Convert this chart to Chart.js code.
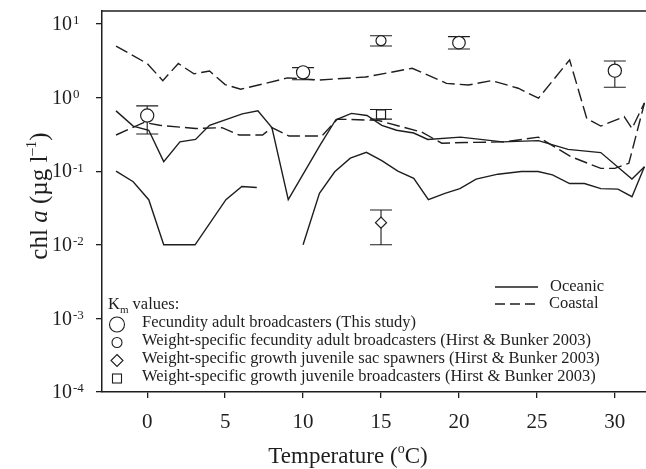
<!DOCTYPE html>
<html>
<head>
<meta charset="utf-8">
<script src="https://cdn.jsdelivr.net/npm/chart.js@4.4.1/dist/chart.umd.min.js"></script>
<style>
  body { margin: 0; background: #fff; }
  #wrap { width: 646px; height: 469px; }
</style>
</head>
<body>
<div id="wrap"><canvas id="chlChart" width="646" height="469"></canvas></div>
<script>
// axis ticks
const xTicks = [0, 5, 10, 15, 20, 25, 30];
const yExponents = [-4, -3, -2, -1, 0, 1];

// coastal lines (dashed)
const coastalHighT = [-2, 0, 1, 2, 3, 4, 5, 6, 7.6, 9, 11, 14, 17, 19.2, 20.6, 22.1, 23.8, 25.1, 27.1, 28.2, 29.1, 30.6, 31.1, 31.9];
const coastalHighV = [5.0, 2.9, 1.7, 2.9, 2.1, 2.3, 1.5, 1.3, 1.56, 1.85, 1.73, 1.9, 2.5, 1.56, 1.48, 1.7, 1.34, 0.98, 3.25, 0.52, 0.41, 0.55, 0.38, 0.85];
const coastalLowT = [-2, -0.2, 0.8, 3.1, 4.8, 5.9, 7.4, 8.0, 9.1, 11.2, 12.2, 14.8, 17.6, 18.9, 20.4, 22.9, 25.1, 27.2, 29.1, 30.0, 30.9, 31.9];
const coastalLowV = [0.31, 0.46, 0.42, 0.38, 0.39, 0.31, 0.31, 0.39, 0.30, 0.30, 0.51, 0.49, 0.34, 0.24, 0.245, 0.25, 0.29, 0.157, 0.109, 0.109, 0.128, 0.84];

// oceanic lines (solid)
const oceanicHighT = [-2, -0.9, 0.1, 1.06, 2.1, 3.1, 4.0, 6.1, 7.1, 8.0, 9.05, 11.1, 12.1, 13.1, 14.1, 15.05, 16.0, 17.1, 18.0, 20.1, 22.8, 25.1, 27.0, 29.1, 31.1, 31.9];
const oceanicHighV = [0.66, 0.41, 0.36, 0.135, 0.25, 0.27, 0.42, 0.60, 0.66, 0.39, 0.041, 0.227, 0.50, 0.61, 0.57, 0.42, 0.36, 0.33, 0.27, 0.29, 0.25, 0.26, 0.198, 0.179, 0.078, 0.115];
const oceanicLowT = [-2, -0.9, 0.1, 1.06, 3.07, 5.05, 6.07, 7.03, 8.5, 10.0, 11.05, 12.03, 13.03, 14.06, 15.05, 16.08, 17.1, 18.04, 19.1, 20.06, 21.1, 22.5, 24.0, 25.07, 26.0, 27.1, 28.05, 29.1, 30.2, 31.1, 31.9];
const oceanicLowV = [0.10, 0.072, 0.041, 0.01, 0.01, 0.041, 0.062, 0.06, null, 0.01, 0.05, 0.098, 0.15, 0.18, 0.139, 0.10, 0.08, 0.041, 0.05, 0.058, 0.078, 0.091, 0.099, 0.099, 0.089, 0.068, 0.068, 0.058, 0.057, 0.045, 0.115];

// Km values with error bars
const studyT = [0, 10, 30];
const studyV = [0.57, 2.2, 2.32];
const studyLo = [0.32, 1.75, 1.38];
const studyHi = [0.77, 2.55, 3.14];
const fecT = [15, 20];
const fecV = [5.93, 5.57];
const fecLo = [5.02, 4.57];
const fecHi = [6.93, 6.72];
const sacT = [15];
const sacV = [0.02];
const sacLo = [0.01];
const sacHi = [0.0297];
const juvT = [15];
const juvV = [0.59];
const juvLo = [0.51];
const juvHi = [0.69];

const legendKm = [
  'Fecundity adult broadcasters (This study)',
  'Weight-specific fecundity adult broadcasters (Hirst & Bunker 2003)',
  'Weight-specific growth juvenile sac spawners (Hirst & Bunker 2003)',
  'Weight-specific growth juvenile broadcasters (Hirst & Bunker 2003)'
];

const ink = '#1e1e1e';
const serif = '"Liberation Serif", "Times New Roman", serif';

function pts(t, v) { return t.map((x, i) => ({ x: x, y: v[i] })); }

function lineSet(t, v, dashed) {
  return {
    data: pts(t, v), borderColor: ink, borderWidth: 1.4, borderDash: dashed ? [13, 5] : [],
    pointRadius: 0, fill: false, tension: 0, spanGaps: false, order: 2
  };
}

function markerSet(t, v, lo, hi, style, radius) {
  return {
    data: pts(t, v), lo: lo, hi: hi, showLine: false, pointStyle: style, pointRadius: radius,
    pointBackgroundColor: '#fff', pointBorderColor: ink, pointBorderWidth: 1.2, order: 1
  };
}

// draws a row of text runs (different fonts/offsets) starting at x
function runs(ctx, parts, x, y) {
  let cx = x;
  parts.forEach(p => {
    ctx.font = p.font;
    ctx.fillText(p.text, cx, y + (p.dy || 0));
    cx += ctx.measureText(p.text).width;
  });
  return cx - x;
}
function runsWidth(ctx, parts) {
  let w = 0;
  parts.forEach(p => { ctx.font = p.font; w += ctx.measureText(p.text).width; });
  return w;
}

const decor = {
  id: 'decor',
  beforeDatasetsDraw(chart) {
    const { ctx } = chart;
    const xs = chart.scales.x, ys = chart.scales.y;
    ctx.save();
    ctx.strokeStyle = ink;
    ctx.lineWidth = 1.1;
    chart.data.datasets.forEach(ds => {
      if (!ds.lo) return;
      ds.data.forEach((p, i) => {
        const px = xs.getPixelForValue(p.x);
        const y1 = ys.getPixelForValue(ds.lo[i]);
        const y2 = ys.getPixelForValue(ds.hi[i]);
        ctx.beginPath();
        ctx.moveTo(px, y1); ctx.lineTo(px, y2);
        ctx.moveTo(px - 11, y1); ctx.lineTo(px + 11, y1);
        ctx.moveTo(px - 11, y2); ctx.lineTo(px + 11, y2);
        ctx.stroke();
      });
    });
    ctx.restore();
  },
  afterDraw(chart) {
    const { ctx, chartArea } = chart;
    const ys = chart.scales.y;
    ctx.save();
    ctx.fillStyle = ink;
    ctx.strokeStyle = ink;

    // top frame line
    ctx.lineWidth = 1.5;
    ctx.beginPath();
    ctx.moveTo(chartArea.left, chartArea.top);
    ctx.lineTo(chartArea.right, chartArea.top);
    ctx.stroke();

    // y tick labels 10^n
    ctx.textBaseline = 'middle';
    yExponents.forEach(e => {
      const py = ys.getPixelForValue(Math.pow(10, e));
      ctx.font = '20px ' + serif;
      ctx.textAlign = 'right';
      ctx.fillText('10', 72, py + 1);
      ctx.font = '13px ' + serif;
      ctx.textAlign = 'left';
      ctx.fillText(e < 0 ? '-' + (-e) : String(e), 73, py - 3);
    });

    // x title
    ctx.textAlign = 'left';
    const xt = [
      { text: 'Temperature (', font: '23px ' + serif },
      { text: 'o', font: '14px ' + serif, dy: -8 },
      { text: 'C)', font: '23px ' + serif }
    ];
    runs(ctx, xt, 348 - runsWidth(ctx, xt) / 2, 457);

    // y title
    const yt = [
      { text: 'chl ', font: '25px ' + serif },
      { text: 'a', font: 'italic 25px ' + serif },
      { text: ' (\u00b5g l', font: '25px ' + serif },
      { text: '\u20131', font: '15px ' + serif, dy: -8 },
      { text: ')', font: '25px ' + serif }
    ];
    ctx.translate(40, 196);
    ctx.rotate(-Math.PI / 2);
    runs(ctx, yt, -runsWidth(ctx, yt) / 2, 0);
    ctx.setTransform(1, 0, 0, 1, 0, 0);

    // line legend
    ctx.lineWidth = 1.3;
    ctx.beginPath();
    ctx.moveTo(495, 287); ctx.lineTo(538, 287);
    ctx.stroke();
    ctx.setLineDash([10, 5]);
    ctx.beginPath();
    ctx.moveTo(495, 304); ctx.lineTo(540, 304);
    ctx.stroke();
    ctx.setLineDash([]);
    ctx.font = '16.5px ' + serif;
    ctx.fillText('Oceanic', 550, 287);
    ctx.fillText('Coastal', 549, 304);

    // Km legend
    runs(ctx, [
      { text: 'K', font: '16.5px ' + serif },
      { text: 'm', font: '11px ' + serif, dy: 5 },
      { text: ' values:', font: '16.5px ' + serif }
    ], 108, 305);
    const rowsY = [323, 341, 359, 377];
    ctx.font = '16.5px ' + serif;
    legendKm.forEach((t, i) => ctx.fillText(t, 142, rowsY[i]));
    ctx.lineWidth = 1.1;
    const mx = 117;
    ctx.beginPath(); ctx.arc(mx, rowsY[0] + 1.5, 7.5, 0, Math.PI * 2); ctx.stroke();
    ctx.beginPath(); ctx.arc(mx, rowsY[1] + 1.5, 5, 0, Math.PI * 2); ctx.stroke();
    ctx.beginPath();
    ctx.moveTo(mx, rowsY[2] - 4.5); ctx.lineTo(mx + 6, rowsY[2] + 1.5);
    ctx.lineTo(mx, rowsY[2] + 7.5); ctx.lineTo(mx - 6, rowsY[2] + 1.5); ctx.closePath();
    ctx.stroke();
    ctx.strokeRect(mx - 4.5, rowsY[3] - 3, 9, 9);
    ctx.restore();
  }
};

const ctx = document.getElementById('chlChart').getContext('2d');

const chlChart = new Chart(ctx, {
  type: 'line',
  data: {
    datasets: [
      markerSet(studyT, studyV, studyLo, studyHi, 'circle', 6.6),
      markerSet(fecT, fecV, fecLo, fecHi, 'circle', [5, 6.3]),
      markerSet(sacT, sacV, sacLo, sacHi, 'rectRot', 5.5),
      markerSet(juvT, juvV, juvLo, juvHi, 'rect', 6.4),
      lineSet(oceanicHighT, oceanicHighV, false),
      lineSet(oceanicLowT, oceanicLowV, false),
      lineSet(coastalHighT, coastalHighV, true),
      lineSet(coastalLowT, coastalLowV, true)
    ]
  },
  options: {
    responsive: false,
    animation: false,
    layout: { autoPadding: false, padding: { top: 11, right: 0, bottom: 0, left: 0 } },
    plugins: { legend: { display: false }, tooltip: { enabled: false } },
    scales: {
      x: {
        type: 'linear', min: -2.9, max: 32,
        afterBuildTicks: s => { s.ticks = xTicks.map(v => ({ value: v })); },
        afterFit: s => { s.height = 77; },
        grid: { drawOnChartArea: false, tickLength: 6, color: ink, lineWidth: 1.3 },
        border: { color: ink, width: 1.5 },
        ticks: { font: { family: serif, size: 21 }, color: ink, padding: 12, autoSkip: false, maxRotation: 0 }
      },
      y: {
        type: 'logarithmic', min: 1e-4, max: 15,
        afterBuildTicks: s => { s.ticks = yExponents.map(e => ({ value: Math.pow(10, e) })); },
        afterFit: s => { s.width = 102; },
        grid: { drawOnChartArea: false, tickLength: 6, color: ink, lineWidth: 1.3 },
        border: { color: ink, width: 1.5 },
        ticks: { callback: () => '', padding: 0 }
      }
    }
  },
  plugins: [decor]
});
</script>
</body>
</html>
